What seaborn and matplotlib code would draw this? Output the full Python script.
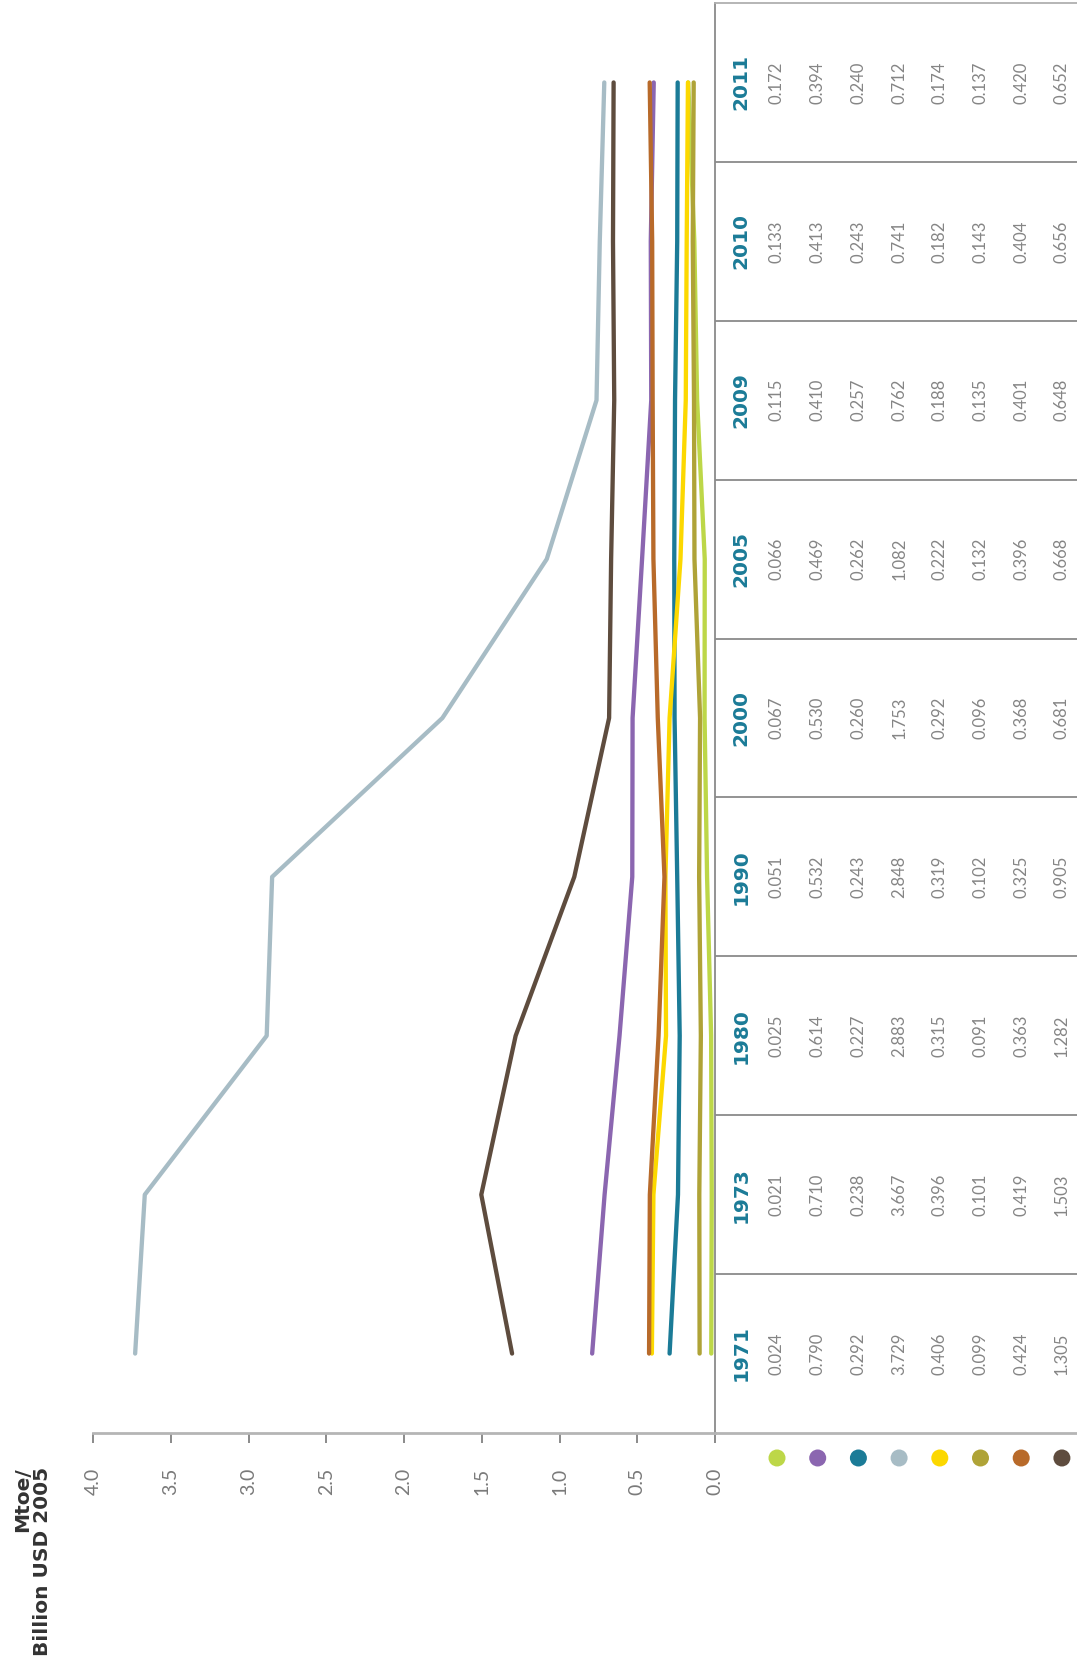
import matplotlib
matplotlib.use("Agg")
import matplotlib.pyplot as plt
import numpy as np
import pandas as pd
import seaborn as sns

# ----------------------------------------------------------------------------
# datos
# ----------------------------------------------------------------------------
years = ["1971", "1973", "1980", "1990", "2000", "2005", "2009", "2010", "2011"]

green = [0.024, 0.021, 0.025, 0.051, 0.067, 0.066, 0.115, 0.133, 0.172]
purple = [0.790, 0.710, 0.614, 0.532, 0.530, 0.469, 0.410, 0.413, 0.394]
teal = [0.292, 0.238, 0.227, 0.243, 0.260, 0.262, 0.257, 0.243, 0.240]
light = [3.729, 3.667, 2.883, 2.848, 1.753, 1.082, 0.762, 0.741, 0.712]
yellow = [0.406, 0.396, 0.315, 0.319, 0.292, 0.222, 0.188, 0.182, 0.174]
olive = [0.099, 0.101, 0.091, 0.102, 0.096, 0.132, 0.135, 0.143, 0.137]
orange = [0.424, 0.419, 0.363, 0.325, 0.368, 0.396, 0.401, 0.404, 0.420]
brown = [1.305, 1.503, 1.282, 0.905, 0.681, 0.668, 0.648, 0.656, 0.652]

series = [green, purple, teal, light, yellow, olive, orange, brown]
colors = ["#bdd748", "#8b66b0", "#1b7b97", "#a7bcc5",
          "#fcd800", "#afa337", "#b86a2a", "#5e4c3e"]
names = ["s%d" % i for i in range(len(series))]

xticks = [0.0, 0.5, 1.0, 1.5, 2.0, 2.5, 3.0, 3.5, 4.0]
ylabel = "Mtoe/\nBillion USD 2005"

rows = []
for name, vals in zip(names, series):
    for pos, v in enumerate(vals):
        rows.append({"serie": name, "pos": pos, "valor": v})
df = pd.DataFrame(rows)

# ----------------------------------------------------------------------------
# figura (todo girado 90 grados)
# ----------------------------------------------------------------------------
sns.set_style("white")
plt.rcParams["font.family"] = ["Lato", "DejaVu Sans"]

W, H = 1077, 1663
fig = plt.figure(figsize=(W / 100, H / 100), dpi=100)

x0, x_zero, y_top, y_bot = 93, 715, 3, 1433
ax = fig.add_axes([x0 / W, (H - y_bot) / H, (x_zero - x0) / W, (y_bot - y_top) / H])

sns.lineplot(
    data=df, x="valor", y="pos", hue="serie", palette=colors,
    orient="y", estimator=None, legend=False, ax=ax,
    linewidth=3.1, solid_capstyle="round",
)
ax.set_xlim(4, 0)
ax.set_ylim(-0.5, len(years) - 0.5)
ax.set_xlabel("")
ax.set_ylabel("")
ax.set_yticks([])
ax.set_xticks(xticks)
ax.set_xticklabels([f"{t:.1f}" for t in xticks], rotation=90,
                   fontsize=14, color="#7a7a7a")
ax.tick_params(axis="x", direction="out", length=7, width=1.4,
               color="#8a8a8a", pad=18, bottom=True)
for s in ["top", "right", "left"]:
    ax.spines[s].set_visible(False)
ax.spines["bottom"].set_color("#b5b5b5")
ax.spines["bottom"].set_linewidth(2)

fig.text(33 / W, (H - 1467) / H, ylabel, rotation=90, ha="center", va="top",
         multialignment="right", fontsize=14.5, fontweight="bold",
         color="#333333", family=["DejaVu Sans"], linespacing=1.05)

# ----------------------------------------------------------------------------
# tabla
# ----------------------------------------------------------------------------
tab = fig.add_axes([x_zero / W, (H - y_bot) / H, (W - x_zero) / W, (y_bot - y_top) / H])
col0, col_w = 777, 40.7
tab.set_xlim((x_zero - col0) / col_w, (W - col0) / col_w)
tab.set_ylim(-0.5, len(years) - 0.5)
tab.set_xticks([])
tab.set_yticks([])
tab.patch.set_alpha(0)
tab.spines["right"].set_visible(False)
tab.spines["left"].set_color("#8a8a8a")
tab.spines["left"].set_linewidth(1.3)
tab.spines["top"].set_color("#b0b0b0")
tab.spines["top"].set_linewidth(1.3)
tab.spines["bottom"].set_color("#b5b5b5")
tab.spines["bottom"].set_linewidth(2)

for k in range(len(years) - 1):
    tab.axhline(k + 0.5, color="#8a8a8a", lw=1.3)

year_x = (741 - col0) / col_w
for pos, yr in enumerate(years):
    tab.text(year_x, pos, yr, rotation=90, ha="center", va="center",
             fontsize=14.5, fontweight="bold", color="#1b7b97",
             family=["DejaVu Sans"])
    for i, vals in enumerate(series):
        tab.text(i, pos, f"{vals[pos]:.3f}", rotation=90, ha="center",
                 va="center", fontsize=12, color="#858585")

dot_y = -0.5 - 25 / 159
tab.scatter(np.arange(len(series)), [dot_y] * len(series), s=150,
            c=colors, clip_on=False, linewidths=0, zorder=5)

fig.savefig("out.png", dpi=100)
